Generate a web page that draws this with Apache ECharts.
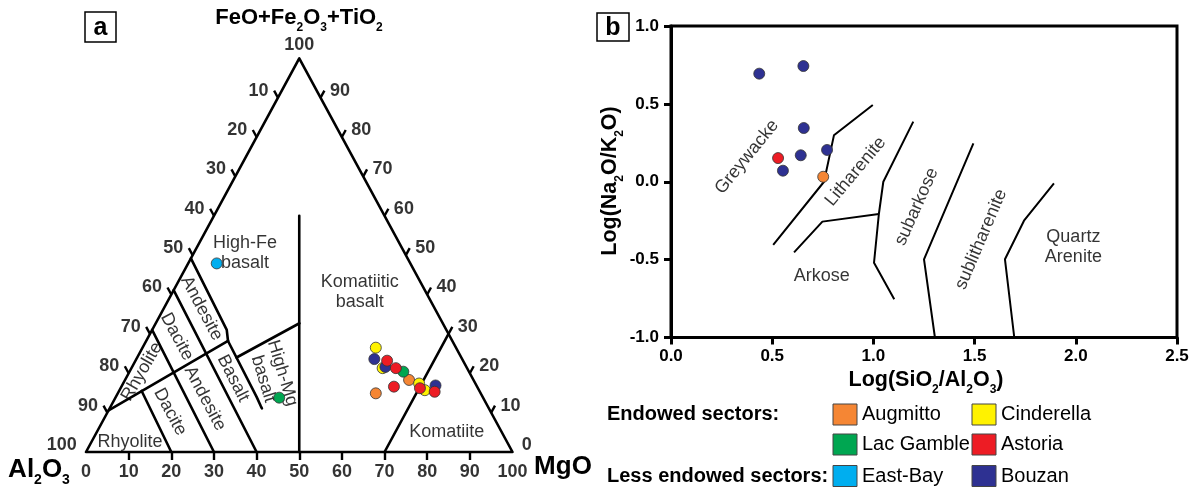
<!DOCTYPE html>
<html><head><meta charset="utf-8">
<script src="https://cdn.jsdelivr.net/npm/echarts@6/dist/echarts.min.js"></script>
<style>html,body{margin:0;padding:0;background:#fff}#c{width:1197px;height:495px}</style>
</head><body><div id="c"></div><script>
// ===== Panel a: Jensen cation plot. Samples as [MgO, FeO+Fe2O3+TiO2] (Al2O3 = 100 - both)
const augmittoA   = [[66.6,18.3],[60.5,14.9]];
const cinderellaA = [[54.7,26.5],[58.9,21.3],[69.4,17.4],[71.6,15.7]];
const lacGambleA  = [[64.2,20.4],[38.4,13.8]];
const astoriaA    = [[59.0,23.2],[62.0,21.3],[63.9,16.6],[70.2,16.2],[74.1,15.3]];
const eastBayA    = [[6.7,47.9]];
const bouzanA     = [[55.8,23.6],[59.4,21.6],[73.5,16.9]];

// field boundaries, [MgO, FeT]
const jensenFrame      = [[0,0],[100,0],[0,100],[0,0]];
const tholeiiticLine   = [[0,10.6],[19.2,28.2]];
const highMgTop        = [[23.3,24.0],[33.7,32.7]];
const basaltCurve      = [[19.2,28.2],[33.0,14.0],[35.2,11.6],[35.7,11.1]];
const upperAndesite    = [[0,49.2],[17.5,31.0],[19.2,28.2]];
const line30           = [[0,31.0],[30,0]];
const line40           = [[0,41.1],[40,0]];
const line20           = [[5.3,15.5],[20,0]];
const komatiiticLine   = [[50,0],[20,60]];
const komatiiteLine    = [[70,0],[70,30]];

const leftTicks  = [10,20,30,40,50,60,70,80,90,100]; // Al2O3
const rightTicks = [0,10,20,30,40,50,60,70,80,90];   // FeT
const baseTicks  = [0,10,20,30,40,50,60,70,80,90,100]; // MgO
const apexTick   = [100];

// ===== Panel b: Log(SiO2/Al2O3) vs Log(Na2O/K2O)
const augmittoB = [[0.752,0.032]];
const astoriaB  = [[0.529,0.152]];
const bouzanB   = [[0.436,0.694],[0.654,0.743],[0.656,0.345],[0.641,0.170],[0.771,0.204],[0.553,0.071]];

const bLine1 = [[0.997,0.493],[0.805,0.298],[0.756,0.0],[0.505,-0.406]];
const bLine2 = [[0.608,-0.453],[0.748,-0.256],[1.027,-0.207]];
const bLine3 = [[1.197,0.386],[1.049,0.0],[1.027,-0.207],[1.003,-0.52],[1.103,-0.755]];
const bLine4 = [[1.494,0.247],[1.25,-0.498],[1.304,-1.0]];
const bLine5 = [[1.892,-0.01],[1.744,-0.25],[1.65,-0.498],[1.696,-1.0]];

const COLORS = {Augmitto:'#F58634', Cinderella:'#FFF200', 'Lac Gamble':'#00A651', Astoria:'#ED1C24', 'East-Bay':'#00AEEF', Bouzan:'#2E3192'};
const FONT = '"Liberation Sans", Arial, Helvetica, sans-serif';

const tern = ([mg, fe]) => [mg + fe/2, fe];
const chart = echarts.init(document.getElementById('c'));

function ptSeries(name, data, xi, isTern){
  return {type:'scatter', name, xAxisIndex:xi, yAxisIndex:xi, data: isTern ? data.map(tern) : data,
    symbolSize:11, z:10, itemStyle:{color:COLORS[name], borderColor:'#333', borderWidth:0.8, opacity:1}};
}
function ternLines(arrs){
  return {type:'lines', coordinateSystem:'cartesian2d', xAxisIndex:0, yAxisIndex:0, polyline:true, silent:true, clip:false, z:3,
    lineStyle:{color:'#000', width:2.6, opacity:1, cap:'round', join:'round'},
    data: arrs.map(a => ({coords: a.map(tern)}))};
}
function bLines(arrs){
  return {type:'lines', coordinateSystem:'cartesian2d', xAxisIndex:1, yAxisIndex:1, polyline:true, silent:true, z:3,
    lineStyle:{color:'#000', width:2, opacity:1, join:'round'},
    data: arrs.map(a => ({coords: a}))};
}
function textSeries(xi, items, size){
  return {type:'scatter', xAxisIndex:xi, yAxisIndex:xi, symbolSize:1, silent:true, z:5, clip:false,
    itemStyle:{color:'transparent'},
    data: items.map(it => ({value:[it[0],it[1]], label:{show:true, position:'inside', formatter:it[2], rotate:it[3]||0,
      color:'#000', fontSize:size, fontFamily:FONT, lineHeight:size+2, align:'center'}}))};
}
// tick geometry (data units of the ternary grid)
const TL = [-0.896, 1.786], TR = [0.896, 1.786], TB = [0, -2.03];
const leftPts  = leftTicks.map(a => tern([0, 100-a]));
const rightPts = rightTicks.map(f => tern([100-f, f]));
const basePts  = baseTicks.map(m => tern([m, 0]));
const apexPts  = apexTick.map(f => tern([0, f]));
function tickSeg(pts, d, keep){ return pts.filter((p,i)=>keep(i)).map(p => ({coords:[p,[p[0]+d[0], p[1]+d[1]]]})); }
const tickLines = {type:'lines', coordinateSystem:'cartesian2d', xAxisIndex:0, yAxisIndex:0, polyline:false, silent:true, clip:false, z:3,
  lineStyle:{color:'#000', width:2.4, opacity:1},
  data: [].concat(
    tickSeg(leftPts, TL, i => leftTicks[i] < 100),
    tickSeg(rightPts, TR, i => rightTicks[i] > 0),
    tickSeg(basePts, TB, i => baseTicks[i] > 0 && baseTicks[i] < 100))};
const tickLabelStyle = {show:true, color:'#000', fontSize:18, fontWeight:'bold', fontFamily:FONT};
function tickLabels(pts, d, vals, pos, dist){
  return {type:'scatter', xAxisIndex:0, yAxisIndex:0, symbolSize:1, silent:true, clip:false, itemStyle:{color:'transparent'},
    label:Object.assign({position:pos, distance:dist, formatter:p=>p.data[2]}, tickLabelStyle),
    data: pts.map((p,i) => [p[0]+d[0], p[1]+d[1], vals[i]])};
}

const fieldA = [
  [37.3,50.5,'High-Fe\nbasalt',0],
  [64.2,40.6,'Komatiitic\nbasalt',0],
  [84.6,5.1,'Komatiite',0],
  [27.1,36.5,'Andesite',-62],
  [21.3,29.3,'Dacite',-62],
  [13.1,20.4,'Rhyolite',60],
  [34.5,18.7,'Basalt',-63],
  [43.8,19.3,'High-Mg\nbasalt',-73],
  [27.9,13.6,'Andesite',-62],
  [19.7,10.2,'Dacite',-62],
  [10.3,2.5,'Rhyolite',0]
];
const fieldB = [
  [0.375,0.159,'Greywacke',51],
  [0.912,0.065,'Litharenite',50],
  [0.745,-0.605,'Arkose',0],
  [1.214,-0.16,'subarkose',66],
  [1.532,-0.37,'sublitharenite',67],
  [1.988,-0.42,'Quartz\nArenite',0]
];

const boldRich = (fs, sub) => ({
  a:{fontSize:fs, fontWeight:'bold', fontFamily:FONT, fill:'#000', color:'#000', lineHeight:fs+5, verticalAlign:'top'},
  s:{fontSize:sub, fontWeight:'bold', fontFamily:FONT, fill:'#000', color:'#000', lineHeight:sub+1, verticalAlign:'bottom'}
});
function richText(x, y, text, fs, sub, rot){
  return {type:'text', x, y, rotation:rot||0, z:20,
    style:{text, x:0, y:0, align:'center', verticalAlign:'middle', textAlign:'center', textVerticalAlign:'middle', rich:boldRich(fs, sub), fill:'#000'}};
}
function plainText(x, y, text, fs, weight, align){
  return {type:'text', x, y, z:20, style:{text, x:0, y:0, fontSize:fs, fontWeight:weight||'normal', fontFamily:FONT, fill:'#000',
    align:align||'left', textAlign:align||'left', verticalAlign:'middle', textVerticalAlign:'middle'}};
}
function box(x,y,w,h,letter){
  return [{type:'rect', shape:{x,y,width:w,height:h}, z:20, style:{fill:'#fff', stroke:'#000', lineWidth:1.5}},
          plainText(x+w/2, y+h/2+1, letter, 25, 'bold', 'center')];
}
function swatch(x, y, name){
  return [{type:'rect', shape:{x, y:y-10.5, width:24, height:21}, z:20, style:{fill:COLORS[name], stroke:'#444', lineWidth:1}},
          plainText(x+29, y, name, 20, 'normal', 'left')];
}

const graphics = [].concat(
  box(85,12,31,30,'a'), box(597,13,32,28,'b'),
  [richText(299,20,'{a|FeO+Fe}{s|2}{a|O}{s|3}{a|+TiO}{s|2}',22,12)],
  [richText(39,472,'{a|Al}{s|2}{a|O}{s|3}',26,14)],
  [richText(563,469,'{a|MgO}',26,14)],
  [richText(612,181,'{a|Log(Na}{s|2}{a|O/K}{s|2}{a|O)}',21.5,12, Math.PI/2)],
  [richText(926,382,'{a|Log(SiO}{s|2}{a|/Al}{s|2}{a|O}{s|3}{a|)}',21.5,12)],
  [plainText(607,414,'Endowed sectors:',20,'bold','left'), plainText(607,476,'Less endowed sectors:',20,'bold','left')],
  swatch(833,414.5,'Augmitto'), swatch(972,414.5,'Cinderella'),
  swatch(833,444.5,'Lac Gamble'), swatch(972,444.5,'Astoria'),
  swatch(833,476,'East-Bay'), swatch(972,476,'Bouzan')
);

const axB = {
  axisLine:{show:true, onZero:false, lineStyle:{color:'#000', width:3}},
  axisTick:{show:true, length:7, lineStyle:{color:'#000', width:3}},
  axisLabel:{color:'#000', fontSize:17, fontWeight:'bold', fontFamily:FONT, formatter:v=>v.toFixed(1), showMinLabel:true, showMaxLabel:true},
  splitLine:{show:false}
};

chart.setOption({
  animation:false,
  backgroundColor:'#fff',
  grid:[
    {left:86, top:58.3, width:426.5, height:393.7, show:false},
    {left:671, top:26, width:506, height:311.5, show:true, borderColor:'#000', borderWidth:3, backgroundColor:'transparent'}
  ],
  xAxis:[
    {gridIndex:0, type:'value', min:0, max:100, show:false},
    Object.assign({gridIndex:1, type:'value', min:0, max:2.5, interval:0.5}, axB, {axisLabel:Object.assign({}, axB.axisLabel, {margin:10})})
  ],
  yAxis:[
    {gridIndex:0, type:'value', min:0, max:100, show:false},
    Object.assign({gridIndex:1, type:'value', min:-1, max:1, interval:0.5}, axB, {axisLabel:Object.assign({}, axB.axisLabel, {margin:12})})
  ],
  graphic:graphics,
  series:[
    ternLines([jensenFrame, tholeiiticLine, highMgTop, basaltCurve, upperAndesite, line30, line40, line20, komatiiticLine, komatiiteLine]),
    tickLines,
    tickLabels(leftPts, TL, leftTicks, 'left', 5),
    tickLabels(rightPts, TR, rightTicks, 'right', 5),
    tickLabels(basePts, TB, baseTicks, 'bottom', 3),
    tickLabels(apexPts, [0,0], apexTick, 'top', 4),
    textSeries(0, fieldA, 18),
    ptSeries('Augmitto', augmittoA, 0, true),
    ptSeries('Cinderella', cinderellaA, 0, true),
    ptSeries('Lac Gamble', lacGambleA, 0, true),
    ptSeries('East-Bay', eastBayA, 0, true),
    ptSeries('Bouzan', bouzanA, 0, true),
    ptSeries('Astoria', astoriaA, 0, true),
    bLines([bLine1, bLine2, bLine3, bLine4, bLine5]),
    textSeries(1, fieldB, 18),
    ptSeries('Augmitto', augmittoB, 1, false),
    ptSeries('Astoria', astoriaB, 1, false),
    ptSeries('Bouzan', bouzanB, 1, false)
  ]
});
</script></body></html>
